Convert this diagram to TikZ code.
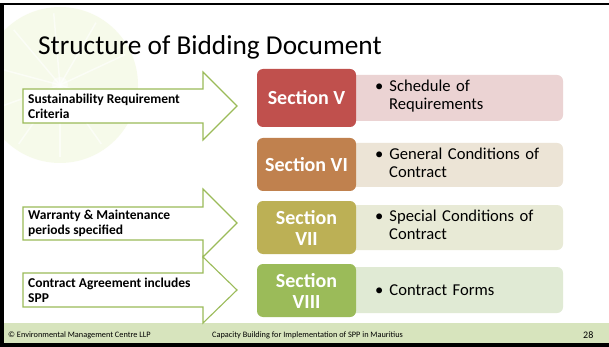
\documentclass[tikz,border=0pt]{standalone}
\usepackage{fontspec}
\setmainfont{Carlito}
\begin{document}
\begin{tikzpicture}[x=1pt,y=-1pt,
  secbox/.style={draw=none,rounded corners=6pt,text=white,font=\bfseries\fontsize{20}{21}\selectfont,align=center,inner sep=0pt},
  desctext/.style={anchor=north west,align=left,font=\fontsize{16.6}{18}\selectfont,inner sep=0pt,text width=180pt},
  arrowshape/.style={draw=arrowgreen,line width=1.1pt,fill=white,line join=miter},
  arrowtext/.style={anchor=west,align=left,font=\bfseries\fontsize{13.5}{15}\selectfont,inner sep=0pt},
  foottext/.style={font=\fontsize{8.3}{9}\selectfont,anchor=base west,inner sep=0pt}]
\definecolor{arrowgreen}{HTML}{9BBB59}
\definecolor{secA}{HTML}{C0504D}
\definecolor{secB}{HTML}{C0814E}
\definecolor{secC}{HTML}{BCB055}
\definecolor{secD}{HTML}{9BBB59}
\definecolor{tintA}{HTML}{EBD3D3}
\definecolor{tintB}{HTML}{ECE4D6}
\definecolor{tintC}{HTML}{E8EAD6}
\definecolor{tintD}{HTML}{E0EAD4}
\definecolor{footgreen}{HTML}{D7E4BD}
\definecolor{limegreen}{HTML}{D6E89A}
\useasboundingbox (0,0) rectangle (609,347);
\fill[white] (0,0) rectangle (609,347);
% faint lime slice
\begin{scope}
\clip (4,5) rectangle (609,323);
\fill[limegreen,opacity=0.2] (60,85) circle (78);
\foreach \a in {20,55,90,125,160,195,230,265,300,335}
  \draw[white,opacity=0.6,line width=1.5pt] (60,85) -- ++(\a:72);
\fill[white,opacity=0.5] (60,85) circle (8);
\end{scope}
% frame
\fill[black] (0,3) rectangle (609,5.5);
\fill[black] (0,3) rectangle (4,347);
\fill[footgreen] (4,323) rectangle (609,343);
\fill[black] (0,343) rectangle (609,347);
% title
\node[anchor=base west,inner sep=0pt,font=\fontsize{27.3}{30}\selectfont] (title) at (38,55) {Structure of Bidding Document};
% description boxes
\fill[tintA,rounded corners=6pt] (340,75) rectangle (563,121);
\fill[tintB,rounded corners=6pt] (340,143) rectangle (563,187);
\fill[tintC,rounded corners=6pt] (340,205) rectangle (563,250);
\fill[tintD,rounded corners=6pt] (340,267) rectangle (563,313);
% section boxes
\node[secbox,fill=secA,minimum width=99pt,minimum height=58pt] (s5) at (306.5,98) {Section V};
\node[secbox,fill=secB,minimum width=99pt,minimum height=53pt] (s6) at (306.5,164.5) {Section VI};
\node[secbox,fill=secC,minimum width=99pt,minimum height=53pt] (s7) at (306.5,227.5) {Section\\VII};
\node[secbox,fill=secD,minimum width=99pt,minimum height=53pt] (s8) at (306.5,290.5) {Section\\VIII};
% description texts
\node[desctext] (d5) at (375,80) {\textbullet\hspace{6pt}Schedule of\\\hspace{14pt}Requirements};
\node[desctext] (d6) at (375,148) {\textbullet\hspace{6pt}General Conditions of\\\hspace{14pt}Contract};
\node[desctext] (d7) at (375,210) {\textbullet\hspace{6pt}Special Conditions of\\\hspace{14pt}Contract};
\node[desctext,anchor=west] (d8) at (375,290) {\textbullet\hspace{6pt}Contract Forms};
% arrows
\draw[arrowshape] (23,89) -- (203,89) -- (203,72) -- (237,106) -- (203,140) -- (203,123) -- (23,123) -- cycle;
\draw[arrowshape] (23,207) -- (203,207) -- (203,189) -- (237,223) -- (203,257) -- (203,240) -- (23,240) -- cycle;
\draw[arrowshape] (23,273) -- (203,273) -- (203,257) -- (237,290) -- (203,323) -- (203,307) -- (23,307) -- cycle;
\node[arrowtext] (a1) at (28,106) {Sustainability Requirement\\Criteria};
\node[arrowtext] (a2) at (28,223) {Warranty \& Maintenance\\periods specified};
\node[arrowtext] (a3) at (28,290) {Contract Agreement includes\\SPP};
% footer
\node[foottext] (f1) at (8,337) {© Environmental Management Centre LLP};
\node[foottext] (f2) at (212,337) {Capacity Building for Implementation of SPP in Mauritius};
\node[foottext,font=\fontsize{10}{11}\selectfont] (f3) at (583,338) {28};
\end{tikzpicture}
\end{document}
